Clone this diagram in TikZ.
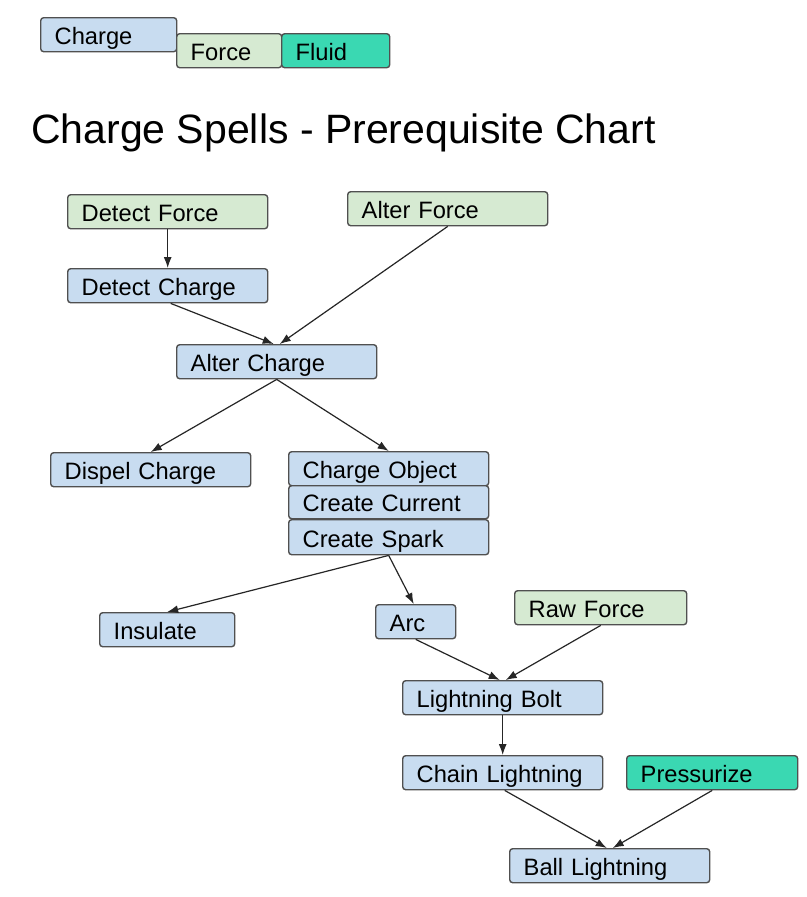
\documentclass[tikz,border=0pt]{standalone}
\usepackage{fontspec}
\setmainfont{Liberation Sans}
\usetikzlibrary{arrows.meta}
\definecolor{chargeblue}{RGB}{200,220,240}
\definecolor{forcegreen}{RGB}{214,234,210}
\definecolor{fluidteal}{RGB}{58,216,178}
\definecolor{edgegray}{RGB}{80,80,80}
\tikzset{
    spell/.style = {draw=edgegray, line width=1.4pt, rounded corners=3pt,
        anchor=north west, inner xsep=14pt, inner ysep=0pt, minimum height=34pt,
        text width=172pt, text height=20pt, text depth=0pt, align=left,
        font=\fontsize{23.7}{28}\selectfont},
    chg/.style = {spell, fill=chargeblue},
    frc/.style = {spell, fill=forcegreen},
    fld/.style = {spell, fill=fluidteal},
    link/.style = {draw=black!85, line width=1.2pt, -{Latex[length=11pt,width=8pt]}}
}
\begin{document}
\begin{tikzpicture}[x=1pt, y=-1pt]
    \useasboundingbox[fill=white] (0,0) rectangle (806,897);
    % legend
    \node[chg, text width=108pt] (keycharge) at (40,17) {Charge};
    \node[frc, text width=77pt] (keyforce) at (176,33) {Force};
    \node[fld, text width=80pt] (keyfluid) at (281,33) {Fluid};
    % title
    \node[anchor=base west, inner sep=0pt, font=\fontsize{41}{48}\selectfont] (title) at (31,143) {Charge Spells - Prerequisite Chart};
    % spells
    \node[frc] (dforce) at (67,194) {Detect Force};
    \node[frc] (aforce) at (347,191) {Alter Force};
    \node[chg] (dcharge) at (67,268) {Detect Charge};
    \node[chg] (acharge) at (176,344) {Alter Charge};
    \node[chg] (dispel) at (50,452) {Dispel Charge};
    \node[chg] (cobject) at (288,451) {Charge Object};
    \node[chg, minimum height=33pt, text height=19pt] (ccurrent) at (288,485) {Create Current};
    \node[chg, minimum height=35pt] (cspark) at (288,519) {Create Spark};
    \node[chg, text width=107pt] (insulate) at (99,612) {Insulate};
    \node[chg, text width=52pt] (arc) at (375,604) {Arc};
    \node[frc, text width=144pt] (rforce) at (514,590) {Raw Force};
    \node[chg] (lbolt) at (402,680) {Lightning Bolt};
    \node[chg] (chain) at (402,755) {Chain Lightning};
    \node[fld, text width=143pt] (pressurize) at (626,755) {Pressurize};
    \node[chg] (ball) at (509,848) {Ball Lightning};
    % prerequisites
    \draw[link] (dforce.south) -- (dcharge.north);
    \draw[link] ([xshift=3pt]dcharge.south) -- ([xshift=-3pt]acharge.north);
    \draw[link] (aforce.south) -- ([xshift=3pt]acharge.north);
    \draw[link] (acharge.south) -- (dispel.north);
    \draw[link] (acharge.south) -- (cobject.north);
    \draw[link] (cspark.south) -- (insulate.north);
    \draw[link] (cspark.south) -- ([xshift=-2pt]arc.north);
    \draw[link] (arc.south) -- ([xshift=-3pt]lbolt.north);
    \draw[link] (rforce.south) -- ([xshift=3pt]lbolt.north);
    \draw[link] (lbolt.south) -- (chain.north);
    \draw[link] ([xshift=2pt]chain.south) -- ([xshift=-3pt]ball.north);
    \draw[link] (pressurize.south) -- ([xshift=3pt]ball.north);
\end{tikzpicture}
\end{document}
